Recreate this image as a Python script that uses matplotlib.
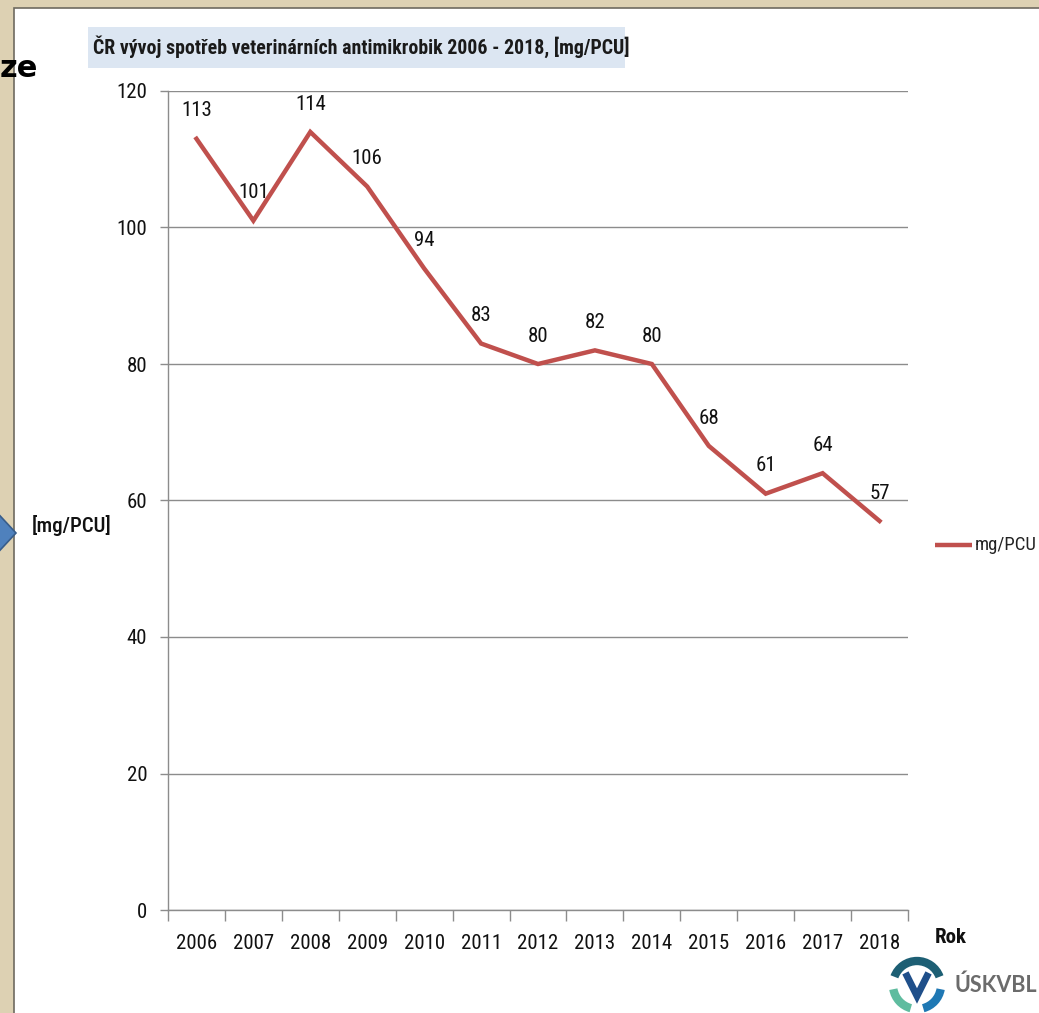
import matplotlib
matplotlib.use("Agg")
import matplotlib.pyplot as plt
from matplotlib import font_manager
from matplotlib.patches import Rectangle, Polygon, Arc
import numpy as np

# ---- data ----
years = ["2006", "2007", "2008", "2009", "2010", "2011", "2012",
         "2013", "2014", "2015", "2016", "2017", "2018"]
mg_per_pcu = [113, 101, 114, 106, 94, 83, 80, 82, 80, 68, 61, 64, 57]
y_ticks = [0, 20, 40, 60, 80, 100, 120]
title = "ČR vývoj spotřeb veterinárních antimikrobik 2006 - 2018, [mg/PCU]"
series_name = "mg/PCU"
y_label = "[mg/PCU]"
x_label = "Rok"

# ---- fonts ----
available = {f.name for f in font_manager.fontManager.ttflist}
family = "DejaVu Sans"
for cand in ["Liberation Sans Narrow", "Roboto Condensed", "Open Sans Condensed", "Lato"]:
    if cand in available:
        family = cand
        break
wide = "Lato" if "Lato" in available else "DejaVu Sans"
plt.rcParams["font.family"] = [family, "DejaVu Sans"]

W, H = 1039, 1013
fig = plt.figure(figsize=(W / 100, H / 100), dpi=100)
fig.patch.set_facecolor("#ddd1b3")

# full-figure overlay in pixel coordinates for the slide decorations
bg = fig.add_axes([0, 0, 1, 1], zorder=0)
bg.set_xlim(0, W)
bg.set_ylim(H, 0)
bg.axis("off")

# white slide panel with thin dark edge
bg.add_patch(Rectangle((14, 8), W, H, facecolor="white", edgecolor="#6e6a60", lw=1.2))
# title box
bg.add_patch(Rectangle((88, 27), 537, 41, facecolor="#dce6f2", edgecolor="none"))
bg.text(93, 47, title, fontsize=14.3, fontweight="bold", color="#1a1a1a",
        va="center", ha="left")
# heading fragment at the left edge
bg.text(0, 77, "ze", fontsize=22, fontweight="bold", color="black",
        va="baseline", ha="left", family=["DejaVu Sans"])
# blue arrow shape at the left edge
bg.add_patch(Polygon([(-40, 505), (-10, 505), (16, 533), (-10, 561), (-40, 561)],
                     closed=True, facecolor="#4f81bd", edgecolor="#385d8a", lw=1.2))
# axis titles
bg.text(72, 525, y_label, fontsize=15, fontweight="medium", color="#111111",
        va="center", ha="center")
bg.text(935, 937, x_label, fontsize=15, fontweight="bold", color="#111111",
        va="center", ha="left")
# legend
bg.plot([935, 972], [545, 545], color="#c0504d", lw=3.2, solid_capstyle="butt")
bg.text(975, 545, series_name, fontsize=13.5, color="#222222", va="center", ha="left")

# logo
cx, cy, r = 917, 985, 24
bg.add_patch(Arc((cx, cy), 2 * r, 2 * r, theta1=200, theta2=340, color="#1d5f74", lw=6))
bg.add_patch(Arc((cx, cy), 2 * r, 2 * r, theta1=105, theta2=170, color="#5fbc9f", lw=6))
bg.add_patch(Arc((cx, cy), 2 * r, 2 * r, theta1=10, theta2=75, color="#1f78b4", lw=6))
bg.plot([cx - 10, cx, cx + 10], [cy - 9, cy + 11, cy - 9], color="#1f4f8a", lw=5,
        solid_joinstyle="miter")
bg.text(955, 985, "ÚSKVBL", fontsize=15.5, fontweight="bold", color="#6b6b6b",
        va="center", ha="left", family=[wide, "DejaVu Sans"])

# ---- chart ----
left, right, top, bottom = 168, 908, 91, 910
ax = fig.add_axes([left / W, 1 - bottom / H, (right - left) / W, (bottom - top) / H], zorder=1)
ax.set_facecolor("none")
x = np.arange(len(years))
ax.plot(x, mg_per_pcu, color="#c0504d", lw=3.2, solid_joinstyle="miter", zorder=3)
for xi, v in zip(x, mg_per_pcu):
    ax.annotate(f"{v}", (xi, v), xytext=(0, 20), textcoords="offset points",
                ha="center", va="center", fontsize=15, color="#111111")

ax.set_xlim(-0.5, len(years) - 0.5)
ax.set_ylim(0, 120)
ax.set_yticks(y_ticks)
ax.set_yticklabels([str(t) for t in y_ticks])
ax.set_xticks(x)
ax.set_xticklabels(years)
ax.set_xticks(np.arange(-0.5, len(years), 1.0), minor=True)
ax.tick_params(axis="x", which="major", length=0, pad=17, labelsize=15, labelcolor="#111111")
ax.tick_params(axis="x", which="minor", length=8, width=1, color="#8c8c8c", direction="out")
ax.tick_params(axis="y", length=6, width=1, color="#8c8c8c", pad=9, labelsize=15,
               labelcolor="#111111")
ax.grid(axis="y", color="#8c8c8c", lw=1)
ax.set_axisbelow(True)
for s in ["top", "right"]:
    ax.spines[s].set_visible(False)
for s in ["left", "bottom"]:
    ax.spines[s].set_color("#8c8c8c")
    ax.spines[s].set_linewidth(1)

fig.savefig("out.png", dpi=100, facecolor=fig.get_facecolor())
